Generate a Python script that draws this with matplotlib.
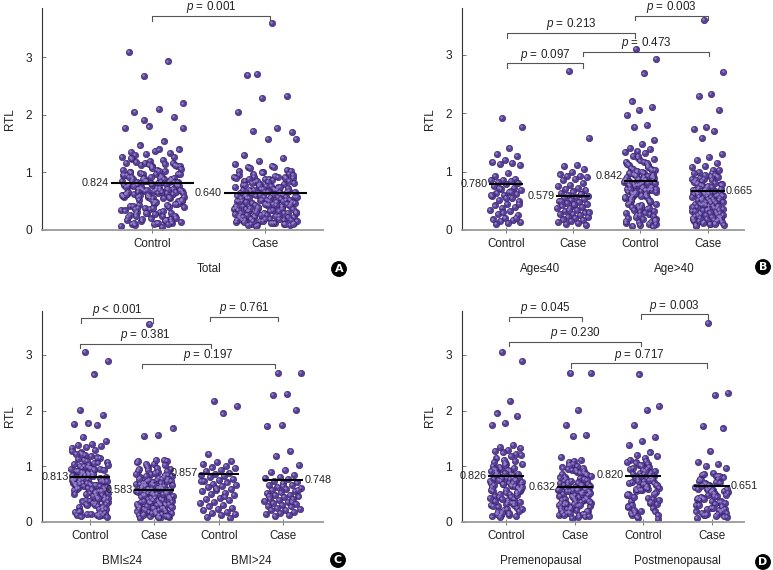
import numpy as np
import matplotlib
matplotlib.use("Agg")
import matplotlib.pyplot as plt
from matplotlib.font_manager import fontManager

# ---------------- data (RTL values) ----------------
# Panel B groups (Age <= 40 / Age > 40)
age_le40_control = [1.92, 1.77, 1.40, 1.30, 1.27, 1.20, 1.17, 1.15, 1.13, 1.12,
                    0.97, 0.93, 0.88, 0.85, 0.85, 0.84, 0.83, 0.80, 0.78, 0.76,
                    0.72, 0.70, 0.68, 0.65, 0.63, 0.62, 0.60, 0.58, 0.55, 0.52,
                    0.50, 0.45, 0.42, 0.40, 0.38, 0.35, 0.32, 0.28, 0.25, 0.20,
                    0.18, 0.17, 0.15, 0.14, 0.12, 0.10, 0.20, 0.30, 0.60, 0.66,
                    0.72, 0.45, 0.55]
age_le40_case = [2.72, 1.58, 1.12, 1.09, 1.05, 1.00, 0.95, 0.92, 0.92, 0.90,
                 0.88, 0.85, 0.80, 0.77, 0.75, 0.72, 0.70, 0.68, 0.66, 0.64,
                 0.62, 0.60, 0.58, 0.57, 0.55, 0.53, 0.52, 0.50, 0.48, 0.47,
                 0.45, 0.43, 0.42, 0.40, 0.38, 0.37, 0.35, 0.33, 0.30, 0.28,
                 0.27, 0.25, 0.23, 0.22, 0.20, 0.18, 0.17, 0.15, 0.14, 0.12,
                 0.10, 0.08, 0.45, 0.50, 0.62, 0.35, 0.30]
age_gt40_control = [3.10, 2.93, 2.68, 2.20, 2.10, 2.05, 1.97, 1.80, 1.77, 1.54,
                    1.47, 1.40, 1.38, 1.36, 1.34, 1.32,
                    1.27, 0.84, 0.31, 0.66, 1.12, 0.95, 0.18, 0.72, 0.53, 1.05,
                    0.88, 0.12, 0.61, 0.79, 1.21, 0.43, 0.97, 0.68, 0.26, 0.83,
                    1.16, 0.57, 0.74, 0.09, 0.91, 0.36, 0.63, 1.02, 0.81, 0.47,
                    0.70, 1.24, 0.15, 0.86, 0.59, 0.93, 0.39, 0.77, 1.09, 0.22,
                    0.65, 0.98, 0.50, 0.82, 0.13, 0.71, 1.14, 0.34, 0.89, 0.60,
                    0.76, 0.28, 1.00, 0.55, 0.85, 0.07, 0.69, 1.19, 0.45, 0.92,
                    0.62, 0.80, 0.19, 1.06, 0.73, 0.41, 0.87, 0.58, 0.96, 0.24,
                    0.67, 1.11, 0.51, 0.78, 0.11, 0.90, 0.64, 1.03, 0.37, 0.83,
                    0.56, 0.75, 0.16, 0.99, 0.70, 0.48, 1.26, 0.86, 0.30, 0.61,
                    0.94, 0.79, 0.21, 1.08, 0.66, 0.44, 0.88, 0.53, 0.13, 0.77,
                    1.17, 0.60, 0.95, 0.33, 0.72, 0.84, 0.10, 1.01, 0.57, 0.68,
                    0.40, 0.91, 0.25, 1.13, 0.81, 0.63, 0.17, 0.74, 0.97, 0.49,
                    0.86, 0.29, 0.69, 1.04, 0.06, 0.58, 0.82, 0.38, 0.93, 0.71]
age_gt40_case = [3.60, 2.70, 2.33, 2.30, 2.05, 1.77, 1.73, 1.70, 1.58, 1.30,
                 1.25, 1.20, 1.15, 1.10, 1.08,
                 0.98, 0.45, 0.21, 0.67, 0.83, 0.12, 0.55, 0.36, 0.92, 0.71,
                 0.18, 0.48, 0.62, 1.03, 0.27, 0.78, 0.41, 0.09, 0.58, 0.87,
                 0.33, 0.66, 0.15, 0.51, 0.74, 0.24, 0.95, 0.43, 0.60, 0.11,
                 0.80, 0.38, 0.69, 0.20, 0.53, 0.89, 0.30, 0.64, 0.07, 0.47,
                 0.76, 0.26, 0.57, 1.00, 0.35, 0.70, 0.16, 0.49, 0.84, 0.22,
                 0.61, 0.40, 0.93, 0.13, 0.56, 0.73, 0.29, 0.65, 0.19, 0.44,
                 0.81, 0.34, 0.59, 0.10, 0.52, 0.90, 0.25, 0.68, 0.42, 0.77,
                 0.17, 0.54, 0.86, 0.31, 0.63, 0.08, 0.46, 0.72, 0.23, 0.58,
                 0.97, 0.37, 0.67, 0.14, 0.50, 0.79, 0.28, 0.62, 0.39, 0.85,
                 0.20, 0.55, 0.75, 0.32, 0.66, 0.12, 0.48, 0.91, 0.26, 0.60,
                 0.43, 0.82, 0.18, 0.53, 0.70, 0.36, 0.64, 0.15, 0.45, 0.88,
                 0.22, 0.57, 1.02, 0.34, 0.69, 0.11, 0.51, 0.78, 0.30, 0.61,
                 0.41, 0.94, 0.19]

# Panel A: total = both age strata
total_control = age_le40_control + age_gt40_control
total_case = age_le40_case + age_gt40_case

# Panel C groups (BMI <= 24 / BMI > 24)
bmi_le24_control = [3.05, 2.90, 2.65, 2.02, 1.92, 1.77, 1.76, 1.74, 1.52, 1.45,
                    1.40, 1.38, 1.36, 1.35, 1.33, 1.30,
                    1.25, 0.72, 0.38, 0.91, 0.15, 0.64, 1.08, 0.83, 0.27, 0.56,
                    0.99, 0.70, 0.12, 0.87, 0.45, 1.18, 0.61, 0.79, 0.33, 0.95,
                    0.52, 0.20, 0.76, 1.02, 0.67, 0.41, 0.89, 0.09, 0.58, 1.13,
                    0.74, 0.30, 0.84, 0.49, 0.97, 0.17, 0.68, 1.22, 0.55, 0.81,
                    0.36, 0.93, 0.62, 0.13, 0.78, 1.05, 0.46, 0.71, 0.24, 0.88,
                    0.59, 1.15, 0.39, 0.82, 0.66, 0.10, 0.94, 0.53, 0.75, 0.29,
                    1.01, 0.63, 0.86, 0.19, 0.48, 1.10, 0.73, 0.35, 0.90, 0.57,
                    0.14, 0.80, 0.65, 1.20, 0.43, 0.96, 0.69, 0.22, 0.85, 0.51,
                    1.07, 0.77, 0.32, 0.60, 0.92, 0.16, 0.70, 1.27, 0.54, 0.83,
                    0.40, 0.98, 0.64, 0.11, 0.79, 1.03, 0.47, 0.72, 0.26, 0.89,
                    0.58, 1.16, 0.37, 0.81, 0.67, 0.13, 0.95, 0.50, 0.76, 0.31,
                    1.00, 0.62, 0.87, 0.18, 0.44, 1.12, 0.74, 0.34, 0.91, 0.56,
                    0.15, 0.78, 0.66, 1.23, 0.42, 0.97, 0.68, 0.23, 0.84, 0.52,
                    1.06, 0.75, 0.28, 0.61]
bmi_le24_case = [3.55, 1.68, 1.56, 1.55,
                 1.10, 0.52, 0.23, 0.78, 0.41, 0.95, 0.14, 0.63, 0.33, 0.87,
                 0.56, 0.08, 0.71, 0.46, 1.04, 0.27, 0.60, 0.19, 0.82, 0.38,
                 0.67, 0.11, 0.50, 0.92, 0.30, 0.74, 0.44, 0.16, 0.58, 1.12,
                 0.35, 0.69, 0.21, 0.54, 0.85, 0.40, 0.13, 0.62, 0.98, 0.28,
                 0.76, 0.48, 0.18, 0.57, 1.07, 0.32, 0.66, 0.09, 0.43, 0.80,
                 0.25, 0.59, 0.37, 0.90, 0.15, 0.53, 0.72, 0.29, 0.64, 1.00,
                 0.45, 0.20, 0.61, 0.84, 0.34, 0.55, 0.12, 0.49, 0.77, 0.26,
                 0.68, 0.39, 0.94, 0.17, 0.51, 0.70, 0.31, 0.60, 1.09, 0.42,
                 0.22, 0.56, 0.88, 0.36, 0.65, 0.10, 0.47, 0.79, 0.24, 0.58,
                 0.40, 0.96, 0.14, 0.53, 0.73, 0.30, 0.63, 1.03, 0.44, 0.19,
                 0.57, 0.83, 0.33, 0.67, 0.07, 0.50, 0.75, 0.27, 0.61, 0.38,
                 0.91, 0.16, 0.54, 0.71, 0.29, 0.59, 1.11, 0.46, 0.21, 0.55,
                 0.86, 0.35, 0.64, 0.11, 0.48, 0.78, 0.25, 0.60, 0.41, 0.97,
                 0.13, 0.52, 0.69, 0.32, 0.62, 1.05, 0.43, 0.18, 0.56, 0.81,
                 0.37, 0.66, 0.09, 0.49, 0.74, 0.26]
bmi_gt24_control = [2.17, 2.08, 1.95, 1.23, 1.10, 1.08, 1.04, 1.01, 0.98, 0.97,
                    0.93, 0.91, 0.88, 0.86, 0.85, 0.82, 0.81, 0.77, 0.76, 0.73,
                    0.71, 0.69, 0.66, 0.64, 0.63, 0.59, 0.58, 0.56, 0.52, 0.51,
                    0.48, 0.44, 0.42, 0.39, 0.36, 0.35, 0.31, 0.28, 0.26, 0.23,
                    0.21, 0.18, 0.17, 0.14, 0.12, 0.09, 0.07, 0.61, 0.74, 0.46]
bmi_gt24_case = [2.68, 2.67, 2.30, 2.28, 2.02, 1.75, 1.72, 1.28, 1.18, 1.03,
                 0.93, 0.90, 0.84, 0.81, 0.79, 0.77, 0.74, 0.71, 0.70, 0.67,
                 0.66, 0.63, 0.61, 0.60, 0.57, 0.56, 0.53, 0.52, 0.49, 0.48,
                 0.46, 0.45, 0.42, 0.41, 0.39, 0.38, 0.36, 0.34, 0.33, 0.31,
                 0.29, 0.28, 0.26, 0.24, 0.22, 0.21, 0.18, 0.16, 0.15, 0.12,
                 0.11, 0.57, 0.64, 0.47, 0.37]

# Panel D groups (Premenopausal / Postmenopausal)
pre_control = [3.05, 2.90, 2.17, 1.95, 1.90, 1.78, 1.75, 1.38, 1.35, 1.33,
               1.30, 1.28,
               1.22, 0.68, 0.31, 0.87, 0.14, 0.59, 1.05, 0.77, 0.42, 0.95,
               0.23, 0.71, 1.15, 0.52, 0.83, 0.10, 0.64, 0.99, 0.36, 0.79,
               0.47, 1.10, 0.18, 0.73, 0.91, 0.28, 0.61, 1.02, 0.55, 0.85,
               0.12, 0.69, 0.39, 0.94, 0.75, 0.21, 0.58, 1.18, 0.45, 0.81,
               0.33, 0.66, 0.97, 0.16, 0.72, 0.50, 0.89, 0.26, 1.07, 0.63,
               0.80, 0.09, 0.56, 0.93, 0.38, 0.76, 1.25, 0.44, 0.67, 0.19,
               0.86, 0.53, 1.00, 0.30, 0.74, 0.60, 0.13, 0.90, 0.48, 1.12,
               0.70, 0.35, 0.82, 0.57, 0.24, 0.96, 0.65, 0.41, 1.04, 0.78,
               0.15, 0.62, 0.88, 0.29, 0.71, 0.51, 1.20, 0.37, 0.84, 0.11,
               0.68, 0.92, 0.46, 0.75, 0.20, 0.58, 1.08, 0.34, 0.80, 0.63,
               0.17, 0.87, 0.54]
pre_case = [2.68, 2.68, 2.02, 1.75, 1.57, 1.55, 1.17, 1.12,
            1.08, 0.55, 0.22, 0.74, 0.40, 0.93, 0.13, 0.61, 0.32, 0.85,
            0.48, 0.17, 0.67, 1.02, 0.28, 0.58, 0.81, 0.10, 0.45, 0.70,
            0.36, 0.96, 0.20, 0.63, 0.51, 0.88, 0.26, 0.57, 0.12, 0.77,
            0.42, 1.10, 0.34, 0.65, 0.18, 0.52, 0.90, 0.30, 0.60, 0.08,
            0.47, 0.79, 0.24, 0.69, 0.39, 0.98, 0.15, 0.56, 0.83, 0.29,
            0.62, 0.44, 1.05, 0.21, 0.53, 0.72, 0.11, 0.37, 0.66, 0.91,
            0.27, 0.59, 0.46, 0.16, 0.76, 0.33, 0.87, 0.50, 0.23, 0.64,
            1.00, 0.41, 0.14, 0.57, 0.80, 0.31, 0.68, 0.49, 0.94, 0.19,
            0.54, 0.73, 0.35, 0.09, 0.61, 0.86, 0.43, 0.25, 0.66, 1.03,
            0.38, 0.58, 0.13, 0.78, 0.47, 0.30, 0.89, 0.55, 0.20, 0.63,
            0.40, 0.97, 0.17, 0.52, 0.71, 0.34, 0.60]
post_control = [2.65, 2.08, 2.02, 1.75, 1.52, 1.45, 1.38, 1.25, 1.20, 1.18,
                1.15, 0.72, 0.25, 0.88, 0.51, 1.05, 0.15, 0.66, 0.94, 0.38,
                0.79, 0.07, 0.61, 1.10, 0.45, 0.83, 0.20, 0.70, 0.99, 0.56,
                0.32, 0.86, 0.12, 0.75, 1.02, 0.48, 0.64, 0.18, 0.91, 0.58,
                1.12, 0.35, 0.77, 0.05, 0.68, 0.97, 0.42, 0.82, 0.27, 0.60,
                1.07, 0.53, 0.74, 0.16, 0.89, 0.63, 0.39, 0.95, 0.22, 0.71,
                1.00, 0.49, 0.85, 0.10, 0.67, 0.92, 0.30, 0.78, 0.57, 1.08,
                0.44, 0.81, 0.19, 0.69, 0.96, 0.36, 0.73, 0.13, 0.62, 0.87,
                0.50, 1.03, 0.28, 0.76, 0.59]
post_case = [3.57, 2.32, 2.28, 1.72, 1.68, 1.28, 1.08, 1.05, 1.00, 0.97,
             0.88, 0.45, 0.18, 0.66, 0.30, 0.82, 0.12, 0.55, 0.38, 0.73,
             0.22, 0.60, 0.09, 0.50, 0.85, 0.27, 0.64, 0.41, 0.15, 0.70,
             0.34, 0.57, 0.78, 0.20, 0.48, 0.62, 0.11, 0.43, 0.80, 0.25,
             0.59, 0.36, 0.68, 0.17, 0.52, 0.75, 0.29, 0.63, 0.08, 0.46,
             0.86, 0.23, 0.56, 0.39, 0.71, 0.14, 0.53, 0.32, 0.67, 0.21,
             0.61, 0.44, 0.77, 0.13, 0.49, 0.26, 0.65, 0.37, 0.58, 0.19,
             0.72, 0.42, 0.10, 0.54, 0.31, 0.83, 0.24, 0.60, 0.47, 0.16]

# group means shown as lines (labels)
means_A = [0.824, 0.640]
means_B = [0.780, 0.579, 0.842, 0.665]
means_C = [0.813, 0.583, 0.857, 0.748]
means_D = [0.826, 0.632, 0.820, 0.651]

cat_labels_2 = ["Control", "Case"]
cat_labels_4 = ["Control", "Case", "Control", "Case"]
group_names_A = ["Total"]
group_names_B = ["Age\u226440", "Age>40"]
group_names_C = ["BMI\u226424", "BMI>24"]
group_names_D = ["Premenopausal", "Postmenopausal"]

# p-value brackets: (x_start, x_end, y, text)
brackets_A = [(1.0, 2.04, 3.72, "0.001")]
brackets_B = [(2.92, 4.00, 3.67, "0.003"), (1.02, 2.92, 3.37, "0.213"),
              (2.15, 4.02, 3.05, "0.473"), (1.02, 2.15, 2.85, "0.097")]
brackets_C = [(0.86, 1.98, 3.66, "<0.001"), (2.86, 3.92, 3.69, "0.761"),
              (0.84, 2.88, 3.20, "0.381"), (1.81, 3.88, 2.84, "0.197")]
brackets_D = [(1.04, 2.11, 3.69, "0.045"), (2.96, 3.95, 3.73, "0.003"),
              (1.04, 2.97, 3.24, "0.230"), (1.95, 3.93, 2.85, "0.717")]

# ---------------- style ----------------
names = {f.name for f in fontManager.ttflist}
NARROW = "Liberation Sans Narrow" in names
if NARROW:
    base = "Liberation Sans Narrow"
    fs_tick, fs_lab, fs_mean, fs_p = 10, 10, 9.2, 10
else:
    base = "Liberation Sans"
    fs_tick, fs_lab, fs_mean, fs_p = 8.6, 8.4, 7.8, 8.4
plt.rcParams['font.family'] = [base, 'DejaVu Sans']
plt.rcParams['mathtext.fontset'] = 'custom'
plt.rcParams['mathtext.it'] = base + ':italic'
plt.rcParams['mathtext.rm'] = base

DOT_FACE = "#5a3f98"
DOT_EDGE = "#36246a"
TXT = "#222222"

fig = plt.figure(figsize=(7.73, 5.70), dpi=100)
W, H = 773.0, 570.0


def make_ax(x0, x1, ybot, ytop):
    return fig.add_axes([x0 / W, 1 - ybot / H, (x1 - x0) / W, (ybot - ytop) / H])


def draw_panel(ax, groups, means, cats, gnames, gpos, brackets, xlim, ylim,
               jit, half, right_last, mean_dy, letter, letter_xy):
    pos = np.arange(1, len(groups) + 1)
    unit_x = (xlim[1] - xlim[0]) / 281.0   # data units per pixel (x)
    unit_y = (ylim[1] - ylim[0]) / 215.0   # data units per pixel (y)
    for p, vals in zip(pos, groups):
        vals = np.asarray(vals, dtype=float)
        n = len(vals)
        off = (((np.arange(n) * 0.6180339 + 0.37) % 1.0) * 2 - 1) * jit
        ax.scatter(p + off, vals, s=21, c=DOT_FACE, edgecolors=DOT_EDGE,
                   linewidths=0.45, zorder=2)
        # small highlight for the glossy look
        ax.scatter(p + off - 0.9 * unit_x, vals + 0.9 * unit_y, s=3,
                   c="#9482c8", linewidths=0, zorder=2.1)
    for i, (p, m) in enumerate(zip(pos, means)):
        ax.hlines(m, p - half, p + half, color="black", lw=1.5, zorder=3)
        lab = f"{m:.3f}"
        dy = mean_dy[i]
        if right_last and i == len(pos) - 1:
            ax.text(p + half + 0.02, m + dy, lab, ha="left", va="center",
                    fontsize=fs_mean, color=TXT, zorder=4)
        else:
            ax.text(p - half - 0.02, m + dy, lab, ha="right", va="center",
                    fontsize=fs_mean, color=TXT, zorder=4)
    leg = 0.08
    for x1, x2, y, t in brackets:
        ax.plot([x1, x1, x2, x2], [y - leg, y, y, y - leg], color="#555555",
                lw=0.8, clip_on=False, zorder=1)
        sym = "$p$ < " + t[1:] if t.startswith("<") else "$p$ = " + t
        ax.text((x1 + x2) / 2, y + 5.5 * unit_y, sym, ha="center", va="baseline",
                fontsize=fs_p, color=TXT, clip_on=False)
    ax.set_xlim(*xlim)
    ax.set_ylim(*ylim)
    ax.set_xticks(pos)
    ax.set_xticklabels(cats, fontsize=fs_lab, color=TXT)
    ax.set_yticks([0, 1, 2, 3])
    ax.set_yticklabels(["0", "1", "2", "3"], fontsize=fs_tick, color=TXT)
    ax.tick_params(axis="y", direction="in", length=3, width=0.7, color="#777777", pad=7)
    ax.tick_params(axis="x", direction="inout", length=4, width=0.7, color="#777777", pad=4)
    for s in ("top", "right"):
        ax.spines[s].set_visible(False)
    ax.spines["left"].set_color("#333333")
    ax.spines["left"].set_linewidth(0.8)
    ax.spines["bottom"].set_color("#9a9a9a")
    ax.spines["bottom"].set_linewidth(1.3)
    ax.set_ylabel("RTL", fontsize=fs_lab, color=TXT)
    ax.yaxis.set_label_coords(-0.092, 0.5)
    for gx, gn in zip(gpos, gnames):
        ax.annotate(gn, xy=(gx, 0), xycoords=("data", "axes fraction"),
                    xytext=(0, -39), textcoords="offset pixels",
                    ha="center", va="center", fontsize=fs_lab, color=TXT,
                    annotation_clip=False)
    fig.text(letter_xy[0] / W, 1 - letter_xy[1] / H, letter, ha="center", va="center",
             fontsize=8, fontweight="bold", color="white", family="DejaVu Sans",
             bbox=dict(boxstyle="circle,pad=0.2", fc="black", ec="black"))


axA = make_ax(41.7, 323, 230, 8)
draw_panel(axA, [total_control, total_case], means_A, cat_labels_2, group_names_A, [1.5],
           brackets_A, (0.02, 2.51), (0, 3.86), 0.28, 0.37, False, [0, 0], "A", (339, 269))
axB = make_ax(461.7, 744, 230, 8)
draw_panel(axB, [age_le40_control, age_le40_case, age_gt40_control, age_gt40_case],
           means_B, cat_labels_4, group_names_B, [1.5, 3.5], brackets_B,
           (0.34, 4.54), (0, 3.80), 0.24, 0.25, True, [0, 0, 0.09, 0], "B", (763, 267))
axC = make_ax(41.7, 323, 522, 311)
draw_panel(axC, [bmi_le24_control, bmi_le24_case, bmi_gt24_control, bmi_gt24_case],
           means_C, cat_labels_4, group_names_C, [1.5, 3.5], brackets_C,
           (0.25, 4.62), (0, 3.79), 0.29, 0.31, True, [0, 0, 0.02, 0], "C", (338, 560))
axD = make_ax(461.7, 744, 522, 311)
draw_panel(axD, [pre_control, pre_case, post_control, post_case],
           means_D, cat_labels_4, group_names_D, [1.5, 3.5], brackets_D,
           (0.35, 4.47), (0, 3.79), 0.24, 0.26, True, [0, 0, 0.02, 0], "D", (763, 562))

fig.savefig("out.png", dpi=100)
